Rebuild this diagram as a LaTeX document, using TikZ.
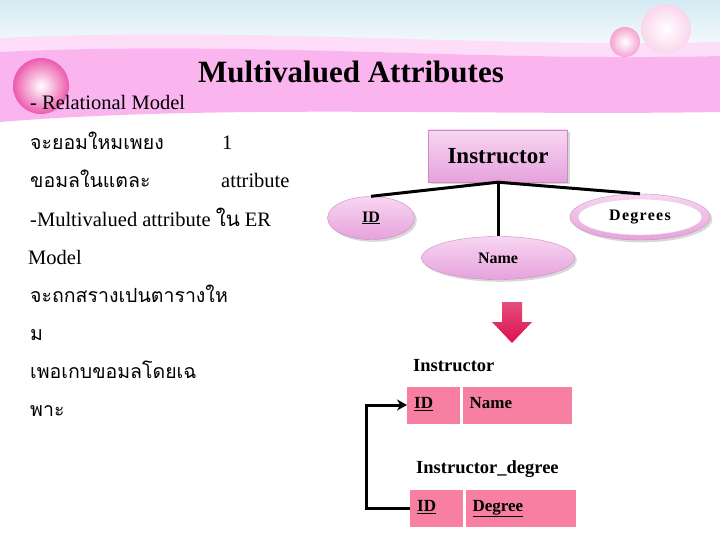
\documentclass[tikz,border=0pt]{standalone}
\usepackage{fontspec}
\setmainfont{Liberation Serif}
\newfontfamily\thaifont[Script=Thai]{Loma}
\usetikzlibrary{arrows.meta,positioning,shapes.geometric,shadows}
\definecolor{skyblue}{HTML}{D3EAF4}
\definecolor{bandpink}{HTML}{FAB4EE}
\definecolor{ballpink}{HTML}{EC5AAE}
\definecolor{erlight}{HTML}{F8D6F2}
\definecolor{erpink}{HTML}{E6A2DC}
\definecolor{erborder}{HTML}{C98CC2}
\definecolor{cellpink}{HTML}{F77FA2}
\definecolor{arrowred}{HTML}{DC1252}
\tikzset{
  titletext/.style={font=\bfseries\fontsize{31}{35}\selectfont},
  body/.style={anchor=base west, inner sep=0pt, font=\fontsize{20.5}{24}\selectfont},
  thai/.style={body, font=\thaifont\fontsize{19.5}{24}\selectfont},
  entity/.style={draw=erborder, top color=erlight, bottom color=erpink, minimum width=139pt,
    minimum height=52pt, font=\bfseries\fontsize{23}{26}\selectfont, drop shadow={opacity=0.3}},
  attrib/.style={ellipse, draw=erborder, top color=erlight, bottom color=erpink, minimum width=87pt,
    minimum height=43pt, inner sep=0pt, font=\bfseries\fontsize{16}{18}\selectfont, drop shadow={opacity=0.3}},
  multiout/.style={ellipse, draw=erborder, top color=erlight, bottom color=erpink,
    minimum width=140pt, minimum height=46pt, drop shadow={opacity=0.3}},
  multiin/.style={ellipse, draw=erborder!50, fill=white, minimum width=124pt, minimum height=36pt,
    inner sep=0pt, font=\bfseries\fontsize{16}{18}\selectfont\addfontfeatures{LetterSpace=8}},
  erline/.style={line width=3pt},
  tlabel/.style={anchor=base west, inner sep=0pt, font=\bfseries\fontsize{18.5}{21}\selectfont},
  cell/.style={fill=cellpink, minimum height=37pt, anchor=west, align=left, inner xsep=7pt,
    text height=12pt, text depth=5pt, font=\bfseries\fontsize{17}{20}\selectfont},
  fk/.style={-{Stealth[length=10pt,width=11pt]}, line width=3pt},
}
\begin{document}
\begin{tikzpicture}[x=1pt,y=-1pt]
  \useasboundingbox (0,0) rectangle (720,540);
  % background of the slide
  \fill[white] (0,0) rectangle (720,540);
  \shade[top color=skyblue, bottom color=white] (0,0) rectangle (720,60);
  \fill[bandpink!45] (0,38) .. controls (250,26) and (480,48) .. (720,42) -- (720,56)
    .. controls (480,62) and (250,40) .. (0,52) -- cycle;
  \fill[bandpink] (0,52) .. controls (250,40) and (480,62) .. (720,56) -- (720,112)
    .. controls (480,116) and (220,104) .. (0,122) -- cycle;
  \shade[inner color=white, outer color=ballpink] (41,86) circle (28);
  \shade[inner color=white, outer color=ballpink!55] (625,42) circle (15);
  \shade[inner color=white, outer color=ballpink!25] (666,29) circle (25);

  % title and text
  \node[titletext] (title) at (351,72) {Multivalued Attributes};
  \node[body] (rel) at (30,110) {- Relational Model};
  \node[thai] (th1) at (30,150) {จะยอมใหมเพยง};
  \node[body] (one) at (222,150) {1};
  \node[thai] (th2) at (30,188) {ขอมลในแตละ};
  \node[body] (att) at (221,188) {attribute};
  \node[body] (mv) at (30,226) {-Multivalued attribute {\thaifont ใน} ER};
  \node[body] (model) at (28,264) {Model};
  \node[thai] (th3) at (30,302) {จะถกสรางเปนตารางให};
  \node[thai] (th4) at (30,340) {ม};
  \node[thai] (th5) at (30,378) {เพอเกบขอมลโดยเฉ};
  \node[thai] (th6) at (30,416) {พาะ};

  % ER diagram
  \node[entity] (inst) at (498,156) {Instructor};
  \node[attrib] (aid) at (371,218) {\underline{ID}};
  \node[attrib, minimum width=153pt] (aname) at (498,258) {Name};
  \node[multiout] (adeg) at (640,217) {};
  \node[multiin] (adegin) at (adeg) {Degrees};
  \draw[erline] (inst.south) -- (aid.north);
  \draw[erline] (inst.south) -- (adeg.north);
  \draw[erline] (inst.south) -- (aname.north);

  % arrow down
  \shade[top color=arrowred!75!white, bottom color=arrowred]
    (502,302) -- (522,302) -- (522,322) -- (532,322) -- (512,343) -- (492,322) -- (502,322) -- cycle;

  % tables
  \node[tlabel] (t1) at (413,371) {Instructor};
  \node[cell, text width=39pt] (id1) at (407,405) {\underline{ID}};
  \node[cell, text width=95pt, right=2pt of id1] (nm1) {Name};
  \node[tlabel] (t2) at (416,473) {Instructor\_degree};
  \node[cell, text width=39pt] (id2) at (410,508) {\underline{ID}};
  \node[cell, text width=96pt, right=2pt of id2] (dg2) {\underline{Degree}};
  \draw[fk] (id2.west) -- ++(-44,0) |- (id1.west);
\end{tikzpicture}
\end{document}
